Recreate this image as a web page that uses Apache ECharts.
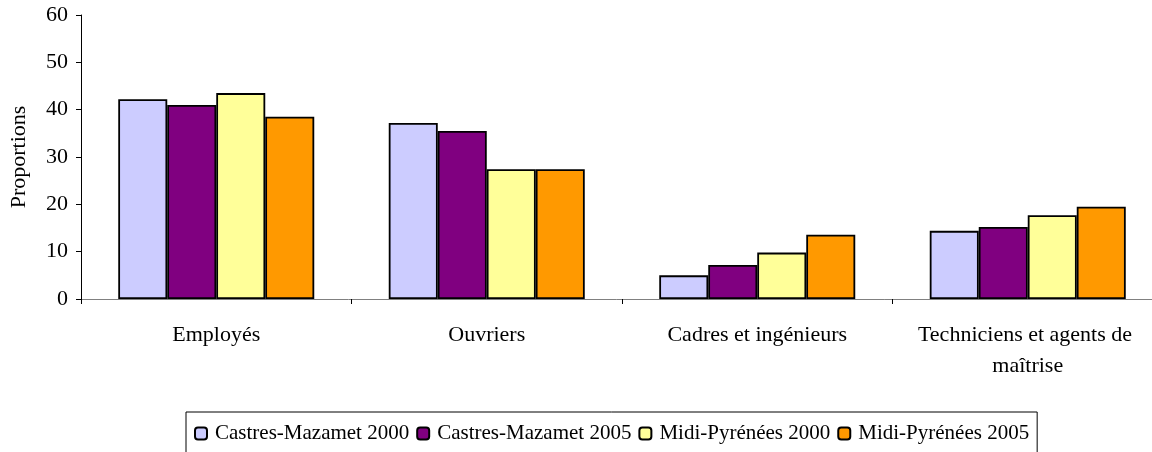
<!DOCTYPE html>
<html>
<head>
<meta charset="utf-8">
<script src="https://cdn.jsdelivr.net/npm/echarts@6/dist/echarts.min.js"></script>
<style>
html,body{margin:0;padding:0;background:#fff;}
#chart{width:1152px;height:452px;}
</style>
</head>
<body>
<div id="chart"></div>
<script>
const categories = ["Employés", "Ouvriers", "Cadres et ingénieurs", "Techniciens et agents de maîtrise"];
const seriesNames = ["Castres-Mazamet 2000", "Castres-Mazamet 2005", "Midi-Pyrénées 2000", "Midi-Pyrénées 2005"];
const castres2000 = [42.2, 37.2, 5.0, 14.4];
const castres2005 = [41.0, 35.5, 7.2, 15.2];
const midi2000 = [43.5, 27.4, 9.8, 17.7];
const midi2005 = [38.5, 27.4, 13.6, 19.5];
const yTicks = [0, 10, 20, 30, 40, 50, 60];
const colors = ["#CCCCFF", "#800080", "#FFFF99", "#FF9900"];

const FONT = "Liberation Serif";
const dataSets = [castres2000, castres2005, midi2000, midi2005];

const chart = echarts.init(document.getElementById('chart'));
chart.setOption({
  backgroundColor: '#ffffff',
  animation: false,
  textStyle: { fontFamily: FONT, color: '#000' },
  grid: { left: 81, top: 15, width: 1082, height: 284, containLabel: false, outerBoundsMode: 'none' },
  legend: {
    left: 186, top: 412,
    orient: 'horizontal',
    borderColor: '#000', borderWidth: 1,
    padding: [11, 8, 30, 8],
    itemWidth: 12, itemHeight: 12, itemGap: 7,
    textStyle: { fontFamily: FONT, fontSize: 21, color: '#000', padding: [0, 0, 0, 3] },
    data: seriesNames
  },
  xAxis: {
    type: 'category',
    data: categories,
    boundaryGap: true,
    axisLine: { lineStyle: { color: '#808080', width: 1 } },
    axisTick: { show: true, length: 5, lineStyle: { color: '#000' } },
    axisLabel: {
      fontFamily: FONT, fontSize: 22, color: '#000', margin: 21,
      lineHeight: 31, width: 250, overflow: 'break', interval: 0
    }
  },
  yAxis: {
    type: 'value',
    min: yTicks[0], max: yTicks[yTicks.length - 1], interval: 10,
    name: 'Proportions',
    nameLocation: 'middle',
    nameGap: 51,
    nameTextStyle: { fontFamily: FONT, fontSize: 22, color: '#000' },
    axisLine: { show: true, lineStyle: { color: '#000', width: 1 } },
    axisTick: { show: true, length: 5, inside: false, lineStyle: { color: '#000' } },
    splitLine: { show: false },
    axisLabel: { fontFamily: FONT, fontSize: 22, color: '#000', margin: 13, padding: [5, 0, 0, 0] }
  },
  series: seriesNames.map((n, i) => ({
    name: n,
    type: 'bar',
    data: dataSets[i],
    barWidth: 49,
    barGap: '0%',
    itemStyle: { color: colors[i], borderColor: '#000', borderWidth: 1.8 }
  }))
});
</script>
</body>
</html>
